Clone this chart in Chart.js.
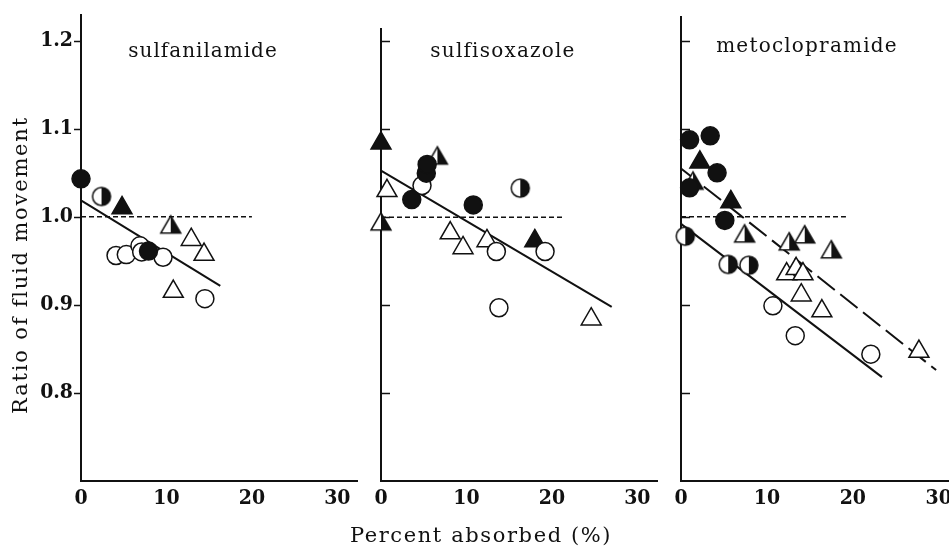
<!DOCTYPE html>
<html>
<head>
<meta charset="utf-8">
<script src="https://cdn.jsdelivr.net/npm/chart.js@4.4.1/dist/chart.umd.min.js"></script>
<style>
  html, body { margin: 0; padding: 0; background: #fff; overflow: hidden; }
  #wrap { position: relative; width: 949px; height: 549px; }
  canvas { position: absolute; left: 0; top: 0; }
</style>
</head>
<body>
<div id="wrap">
  <canvas id="p1" width="970" height="549"></canvas>
  <canvas id="p2" width="970" height="549"></canvas>
  <canvas id="p3" width="970" height="549"></canvas>
</div>
<script>
// ─── Values ──────────────────────────────────────────────────────────────────
const panelNames = ['sulfanilamide', 'sulfisoxazole', 'metoclopramide'];
const xTicks = [0, 10, 20, 30];
const yTicks = [0.8, 0.9, 1.0, 1.1, 1.2];
const yMin = 0.7;
const yMax = [1.229, 1.214, 1.227];
const xMax = [32.3, 32.3, 31.2];
const refLineEnd = [20, 21.5, 19.2];   // dashed 1.0 line stops here

// sulfanilamide
const sulfaOpenCircle   = [[4.1, 0.956], [5.3, 0.957], [6.9, 0.967], [7.1, 0.960], [9.6, 0.954], [14.5, 0.907]];
const sulfaFilledCircle = [[0, 1.043], [7.9, 0.961]];
const sulfaHalfCircle   = [[2.4, 1.023]];
const sulfaOpenTri      = [[10.8, 0.915], [12.9, 0.974], [14.4, 0.957]];
const sulfaFilledTri    = [[4.8, 1.010]];
const sulfaHalfTri      = [[10.5, 0.988]];
const sulfaFit          = [[0, 1.0185], [16.3, 0.9216]];

// sulfisoxazole
const sisoOpenCircle    = [[4.8, 1.036], [13.5, 0.961], [19.2, 0.961], [13.8, 0.897]];
const sisoFilledCircle  = [[3.6, 1.020], [5.3, 1.050], [5.4, 1.060], [10.8, 1.014]];
const sisoHalfCircle    = [[16.3, 1.033]];
const sisoOpenTri       = [[0.7, 1.030], [8.1, 0.982], [9.6, 0.965], [12.4, 0.973], [24.6, 0.884]];
const sisoFilledTri     = [[0, 1.084], [18.0, 0.973]];
const sisoHalfTri       = [[0, 0.992], [6.6, 1.067]];
const sisoFit           = [[0, 1.053], [27.0, 0.898]];

// metoclopramide
const metoOpenCircle    = [[10.7, 0.899], [13.3, 0.865], [22.1, 0.844]];
const metoFilledCircle  = [[1.0, 1.0875], [3.4, 1.092], [4.2, 1.050], [1.0, 1.033], [5.1, 0.996]];
const metoHalfCircle    = [[0.5, 0.978], [5.5, 0.946], [7.9, 0.945]];
const metoOpenTri       = [[12.3, 0.935], [13.4, 0.941], [14.2, 0.935], [14.0, 0.911], [16.4, 0.893], [27.7, 0.847]];
const metoFilledTri     = [[2.2, 1.062], [5.8, 1.017]];
const metoHalfTri       = [[1.4, 1.038], [7.4, 0.978], [12.6, 0.969], [14.4, 0.977], [17.5, 0.960]];
const metoFitSolid      = [[0, 0.992], [23.4, 0.818]];
const metoFitDashed     = [[0, 1.055], [29.7, 0.826]];

// ─── Styling ────────────────────────────────────────────────────────────────
const INK = '#111';
const SERIF = '"DejaVu Serif", "Liberation Serif", serif';
const TICK_FAMILY = '"DejaVu Serif Condensed", "DejaVu Serif", serif';
const X_TICK_FONT = { family: TICK_FAMILY, size: 21, weight: 'bold' };
// small lineHeight keeps the y labels from padding the top of the plot
const Y_TICK_FONT = { family: TICK_FAMILY, size: 21, weight: 'bold', lineHeight: 0.6 };
const CIRCLE_R = 9;
const TRI_R = 11.5;

const toXY = arr => arr.map(p => ({ x: p[0], y: p[1] }));

function halfCircle(r) {
  const s = 2 * Math.ceil(r + 2), c = s / 2;
  const cv = document.createElement('canvas');
  cv.width = cv.height = s;
  const g = cv.getContext('2d');
  g.beginPath(); g.arc(c, c, r, 0, Math.PI * 2); g.fillStyle = '#fff'; g.fill();
  g.beginPath(); g.arc(c, c, r, -Math.PI / 2, Math.PI / 2); g.closePath(); g.fillStyle = INK; g.fill();
  g.beginPath(); g.arc(c, c, r, 0, Math.PI * 2); g.lineWidth = 1.5; g.strokeStyle = INK; g.stroke();
  return cv;
}

function halfTriangle(r) {
  const s = 2 * Math.ceil(r + 2), c = s / 2, h = r * Math.sin(Math.PI / 3);
  const cv = document.createElement('canvas');
  cv.width = cv.height = s;
  const g = cv.getContext('2d');
  const tri = () => { g.beginPath(); g.moveTo(c, c - r); g.lineTo(c + h, c + r / 2); g.lineTo(c - h, c + r / 2); g.closePath(); };
  tri(); g.fillStyle = '#fff'; g.fill();
  g.beginPath(); g.moveTo(c, c - r); g.lineTo(c + h, c + r / 2); g.lineTo(c, c + r / 2); g.closePath();
  g.fillStyle = INK; g.fill();
  tri(); g.lineWidth = 1.5; g.lineJoin = 'miter'; g.strokeStyle = INK; g.stroke();
  return cv;
}

const HALF_CIRCLE = halfCircle(CIRCLE_R);
const HALF_TRI = halfTriangle(TRI_R);

const MARKERS = {
  openCircle:   { pointStyle: 'circle',   pointRadius: CIRCLE_R, pointBackgroundColor: '#fff' },
  filledCircle: { pointStyle: 'circle',   pointRadius: CIRCLE_R, pointBackgroundColor: INK },
  halfCircle:   { pointStyle: HALF_CIRCLE, pointRadius: CIRCLE_R, pointBackgroundColor: '#fff' },
  openTri:      { pointStyle: 'triangle', pointRadius: TRI_R,    pointBackgroundColor: '#fff' },
  filledTri:    { pointStyle: 'triangle', pointRadius: TRI_R,    pointBackgroundColor: INK },
  halfTri:      { pointStyle: HALF_TRI,   pointRadius: TRI_R,    pointBackgroundColor: '#fff' },
};

function markerSet(data, kind) {
  return Object.assign({
    type: 'scatter',
    data: toXY(data),
    pointBorderColor: INK,
    pointBorderWidth: 1.5,
    showLine: false,
    clip: false,
  }, MARKERS[kind]);
}

function lineSet(data, dash, width) {
  return {
    type: 'line',
    data: toXY(data),
    borderColor: INK,
    borderWidth: width || 2,
    borderDash: dash || [],
    pointRadius: 0,
    fill: false,
    clip: false,
  };
}

// Draws short tick marks on the y axis line (outward on panel 1, inward elsewhere)
const yTickMarks = {
  id: 'yTickMarks',
  afterDraw(chart, args, opts) {
    const ctx = chart.ctx, y = chart.scales.y, x0 = chart.chartArea.left;
    ctx.save();
    ctx.strokeStyle = INK;
    ctx.lineWidth = 1.5;
    yTicks.forEach(v => {
      const py = Math.round(y.getPixelForValue(v)) + 0.5;
      ctx.beginPath();
      ctx.moveTo(x0, py);
      ctx.lineTo(x0 + opts.dir * opts.len, py);
      ctx.stroke();
    });
    ctx.restore();
  }
};

// Free-standing labels (panel names, axis titles)
const texts = {
  id: 'texts',
  afterDraw(chart, args, opts) {
    const ctx = chart.ctx;
    (opts.items || []).forEach(t => {
      ctx.save();
      ctx.font = (t.weight || 'normal') + ' ' + t.size + 'px ' + SERIF;
      ctx.letterSpacing = (t.spacing || 0) + 'px';
      ctx.fillStyle = INK;
      ctx.textAlign = 'center';
      ctx.textBaseline = 'middle';
      ctx.translate(t.x, t.y);
      if (t.rot) ctx.rotate(t.rot);
      ctx.fillText(t.text, 0, 0);
      ctx.restore();
    });
  }
};

// ─── Panels ─────────────────────────────────────────────────────────────────
const CANVAS_W = 970, CANVAS_H = 549, AREA_BOTTOM = 481, X_AXIS_H = 40;

function buildPanel(canvasId, i, datasets, layout, items) {
  const yWidth = layout.showY ? layout.left : 20;
  return new Chart(document.getElementById(canvasId), {
    type: 'scatter',
    data: { datasets },
    plugins: [yTickMarks, texts],
    options: {
      responsive: false,
      devicePixelRatio: 1,
      animation: false,
      events: [],
      layout: {
        padding: {
          left: layout.left - yWidth,
          right: CANVAS_W - layout.right,
          top: layout.top,
          bottom: CANVAS_H - AREA_BOTTOM - X_AXIS_H,
        }
      },
      plugins: {
        legend: { display: false },
        tooltip: { enabled: false },
        title: { display: false },
        yTickMarks: { dir: layout.showY ? -1 : 1, len: layout.showY ? 7 : 9 },
        texts: { items },
      },
      scales: {
        x: {
          type: 'linear',
          min: 0,
          max: xMax[i],
          afterBuildTicks: s => { s.ticks = xTicks.map(v => ({ value: v })); },
          afterFit: s => { s.height = X_AXIS_H; },
          grid: { display: false, drawTicks: false },
          border: { display: true, color: INK, width: 2 },
          ticks: {
            color: INK,
            padding: 5,
            maxRotation: 0,
            font: X_TICK_FONT,
            callback: v => String(v),
          },
        },
        y: {
          type: 'linear',
          min: yMin,
          max: yMax[i],
          afterBuildTicks: s => { s.ticks = yTicks.map(v => ({ value: v })); },
          afterFit: s => { s.width = yWidth; },
          grid: { display: false, drawTicks: false },
          border: { display: true, color: INK, width: 2 },
          ticks: {
            display: layout.showY,
            color: INK,
            padding: 8,
            font: Y_TICK_FONT,
            callback: v => Number(v).toFixed(1),
          },
        },
      },
    },
  });
}

buildPanel('p1', 0, [
  markerSet(sulfaFilledCircle, 'filledCircle'),
  markerSet(sulfaHalfCircle, 'halfCircle'),
  markerSet(sulfaOpenCircle, 'openCircle'),
  markerSet(sulfaFilledTri, 'filledTri'),
  markerSet(sulfaHalfTri, 'halfTri'),
  markerSet(sulfaOpenTri, 'openTri'),
  lineSet(sulfaFit),
  lineSet([[0, 1.0], [refLineEnd[0], 1.0]], [5, 3], 1.5),
], { left: 81, right: 357, top: 15, showY: true }, [
  { text: panelNames[0], x: 203, y: 52, size: 20, spacing: 1 },
  { text: 'Ratio of fluid movement', x: 22, y: 265, size: 21, spacing: 1.8, rot: -Math.PI / 2 },
]);

buildPanel('p2', 1, [
  markerSet(sisoFilledCircle, 'filledCircle'),
  markerSet(sisoHalfCircle, 'halfCircle'),
  markerSet(sisoOpenCircle, 'openCircle'),
  markerSet(sisoFilledTri, 'filledTri'),
  markerSet(sisoHalfTri, 'halfTri'),
  markerSet(sisoOpenTri, 'openTri'),
  lineSet(sisoFit),
  lineSet([[0, 1.0], [refLineEnd[1], 1.0]], [5, 3], 1.5),
], { left: 381, right: 657, top: 29, showY: false }, [
  { text: panelNames[1], x: 503, y: 52, size: 20, spacing: 1.2 },
  { text: 'Percent absorbed (%)', x: 481, y: 537, size: 21, spacing: 1.6 },
]);

buildPanel('p3', 2, [
  markerSet(metoFilledCircle, 'filledCircle'),
  markerSet(metoHalfCircle, 'halfCircle'),
  markerSet(metoOpenCircle, 'openCircle'),
  markerSet(metoFilledTri, 'filledTri'),
  markerSet(metoHalfTri, 'halfTri'),
  markerSet(metoOpenTri, 'openTri'),
  lineSet(metoFitSolid),
  lineSet(metoFitDashed, [22, 7]),
  lineSet([[0, 1.0], [refLineEnd[2], 1.0]], [5, 3], 1.5),
], { left: 681, right: 949, top: 17, showY: false }, [
  { text: panelNames[2], x: 807, y: 47, size: 20, spacing: 1.2 },
]);
</script>
</body>
</html>
